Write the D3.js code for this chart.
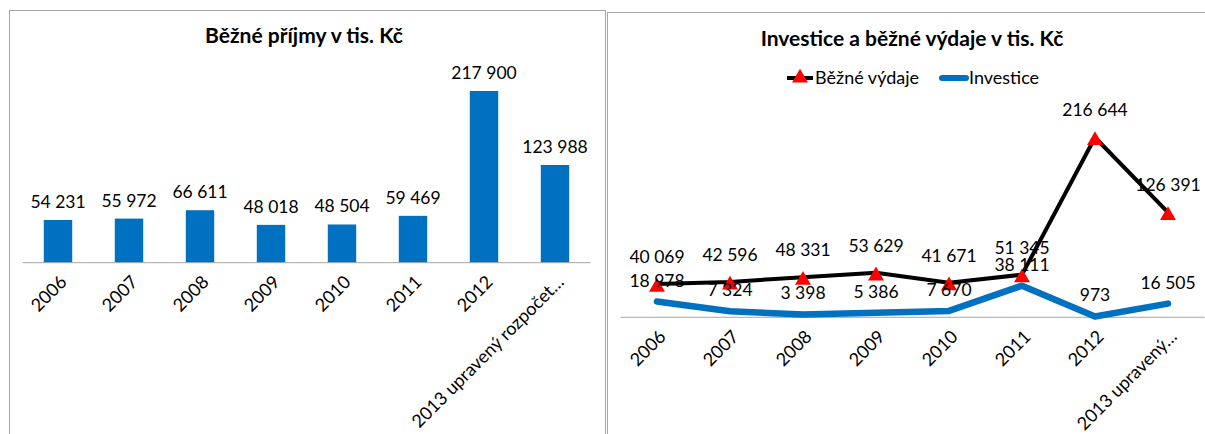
<!DOCTYPE html>
<html>
<head>
<meta charset="utf-8">
<script src="https://cdn.jsdelivr.net/npm/d3@7"></script>
<style>
  body { margin: 0; background: #fff; }
  text { font-family: Lato, "Noto Sans", sans-serif; fill: #000; }
</style>
</head>
<body>
<script>
// data
var years = ["2006", "2007", "2008", "2009", "2010", "2011", "2012", "2013 upravený rozpočet…"];
var yearsShort = ["2006", "2007", "2008", "2009", "2010", "2011", "2012", "2013 upravený…"];
var prijmy = [54231, 55972, 66611, 48018, 48504, 59469, 217900, 123988];
var vydaje = [40069, 42596, 48331, 53629, 41671, 51345, 216644, 126391];
var investice = [18978, 7324, 3398, 5386, 7670, 38111, 973, 16505];

var cz = d3.formatLocale({ decimal: ",", thousands: "\u00a0", grouping: [3], currency: ["", " Kč"] });
var fmt = cz.format(",d");

var svg = d3.select("body").append("svg")
  .attr("width", 1205)
  .attr("height", 434);

// ---------- left chart: bars ----------
var left = svg.append("g");
left.append("rect")
  .attr("x", 9.5).attr("y", 10.5)
  .attr("width", 596).attr("height", 440)
  .attr("fill", "#fff").attr("stroke", "#a6a6a6");

left.append("text")
  .attr("x", 304).attr("y", 43)
  .attr("text-anchor", "middle")
  .style("font-weight", "bold").style("font-size", "21px")
  .text("Běžné příjmy v tis. Kč");

var x1 = d3.scalePoint().domain(years).range([22.5, 590.5]).padding(0.5);
var y1 = d3.scaleLinear().domain([0, 250000]).range([262.7, 65.7]);
var bw = x1.step() * 0.4;

left.selectAll("rect.bar").data(prijmy).enter().append("rect")
  .attr("class", "bar")
  .attr("x", function(d, i) { return x1(years[i]) - bw / 2; })
  .attr("y", function(d) { return y1(d); })
  .attr("width", bw)
  .attr("height", function(d) { return y1(0) - y1(d); })
  .attr("fill", "#0070c0");

left.selectAll("text.lbl").data(prijmy).enter().append("text")
  .attr("class", "lbl")
  .attr("x", function(d, i) { return x1(years[i]); })
  .attr("y", function(d) { return y1(d) - 12; })
  .attr("text-anchor", "middle")
  .style("font-size", "17.5px")
  .text(function(d) { return fmt(d); });

var ax1 = left.append("g").attr("transform", "translate(0," + y1(0) + ")")
  .call(d3.axisBottom(x1).tickSize(0).tickPadding(0));
ax1.select(".domain").attr("stroke", "#a6a6a6").attr("d", "M22.5,0H590.5");
ax1.selectAll(".tick text")
  .attr("text-anchor", "end")
  .attr("dy", "0.35em")
  .attr("transform", "translate(5,16) rotate(-45)")
  .style("font-size", "18px").style("font-family", "Lato, sans-serif").attr("fill", "#000");

// ---------- right chart: lines ----------
var right = svg.append("g");
right.append("rect")
  .attr("x", 607.5).attr("y", 12.5)
  .attr("width", 610).attr("height", 440)
  .attr("fill", "#fff").attr("stroke", "#a6a6a6");

right.append("text")
  .attr("x", 912).attr("y", 46)
  .attr("text-anchor", "middle")
  .style("font-weight", "bold").style("font-size", "21px")
  .text("Investice a běžné výdaje v tis. Kč");

// legend
var tri = d3.symbol().type(d3.symbolTriangle).size(110);
var leg = right.append("g");
leg.append("line").attr("x1", 787).attr("x2", 813).attr("y1", 78).attr("y2", 78)
  .attr("stroke", "#000").attr("stroke-width", 4);
leg.append("path").attr("d", tri).attr("transform", "translate(800,78)").attr("fill", "#ff0000");
leg.append("text").attr("x", 815).attr("y", 84).style("font-size", "18px").text("Běžné výdaje");
leg.append("line").attr("x1", 942).attr("x2", 966).attr("y1", 78).attr("y2", 78)
  .attr("stroke", "#0070c0").attr("stroke-width", 6).attr("stroke-linecap", "round");
leg.append("text").attr("x", 969).attr("y", 84).style("font-size", "18px").text("Investice");

var x2 = d3.scalePoint().domain(years).range([620.5, 1204.5]).padding(0.5);
var y2 = d3.scaleLinear().domain([0, 250000]).range([317.3, 109.8]);

var ax2 = right.append("g").attr("transform", "translate(0," + y2(0) + ")")
  .call(d3.axisBottom(x2).tickSize(0).tickPadding(0).tickFormat(function(d, i) { return yearsShort[i]; }));
ax2.select(".domain").attr("stroke", "#a6a6a6").attr("d", "M620.5,0H1204.5");
ax2.selectAll(".tick text")
  .attr("text-anchor", "end")
  .attr("dy", "0.35em")
  .attr("transform", "translate(5,16) rotate(-45)")
  .style("font-size", "18px").style("font-family", "Lato, sans-serif").attr("fill", "#000");

var line2 = d3.line()
  .x(function(d, i) { return x2(years[i]); })
  .y(function(d) { return y2(d); });

right.append("path").datum(investice)
  .attr("d", line2)
  .attr("fill", "none").attr("stroke", "#0070c0")
  .attr("stroke-width", 6.5).attr("stroke-linejoin", "round").attr("stroke-linecap", "round");

right.append("path").datum(vydaje)
  .attr("d", line2)
  .attr("fill", "none").attr("stroke", "#000")
  .attr("stroke-width", 4).attr("stroke-linejoin", "round");

right.selectAll("path.mk").data(vydaje).enter().append("path")
  .attr("class", "mk")
  .attr("d", tri)
  .attr("transform", function(d, i) { return "translate(" + x2(years[i]) + "," + (y2(d) + 3) + ")"; })
  .attr("fill", "#ff0000");

right.selectAll("text.li").data(investice).enter().append("text")
  .attr("class", "li")
  .attr("x", function(d, i) { return x2(years[i]); })
  .attr("y", function(d) { return y2(d) - 15; })
  .attr("text-anchor", "middle")
  .style("font-size", "17.5px")
  .text(function(d) { return fmt(d); });

right.selectAll("text.lv").data(vydaje).enter().append("text")
  .attr("class", "lv")
  .attr("x", function(d, i) { return x2(years[i]); })
  .attr("y", function(d) { return y2(d) - 21; })
  .attr("text-anchor", "middle")
  .style("font-size", "17.5px")
  .text(function(d) { return fmt(d); });
</script>
</body>
</html>
